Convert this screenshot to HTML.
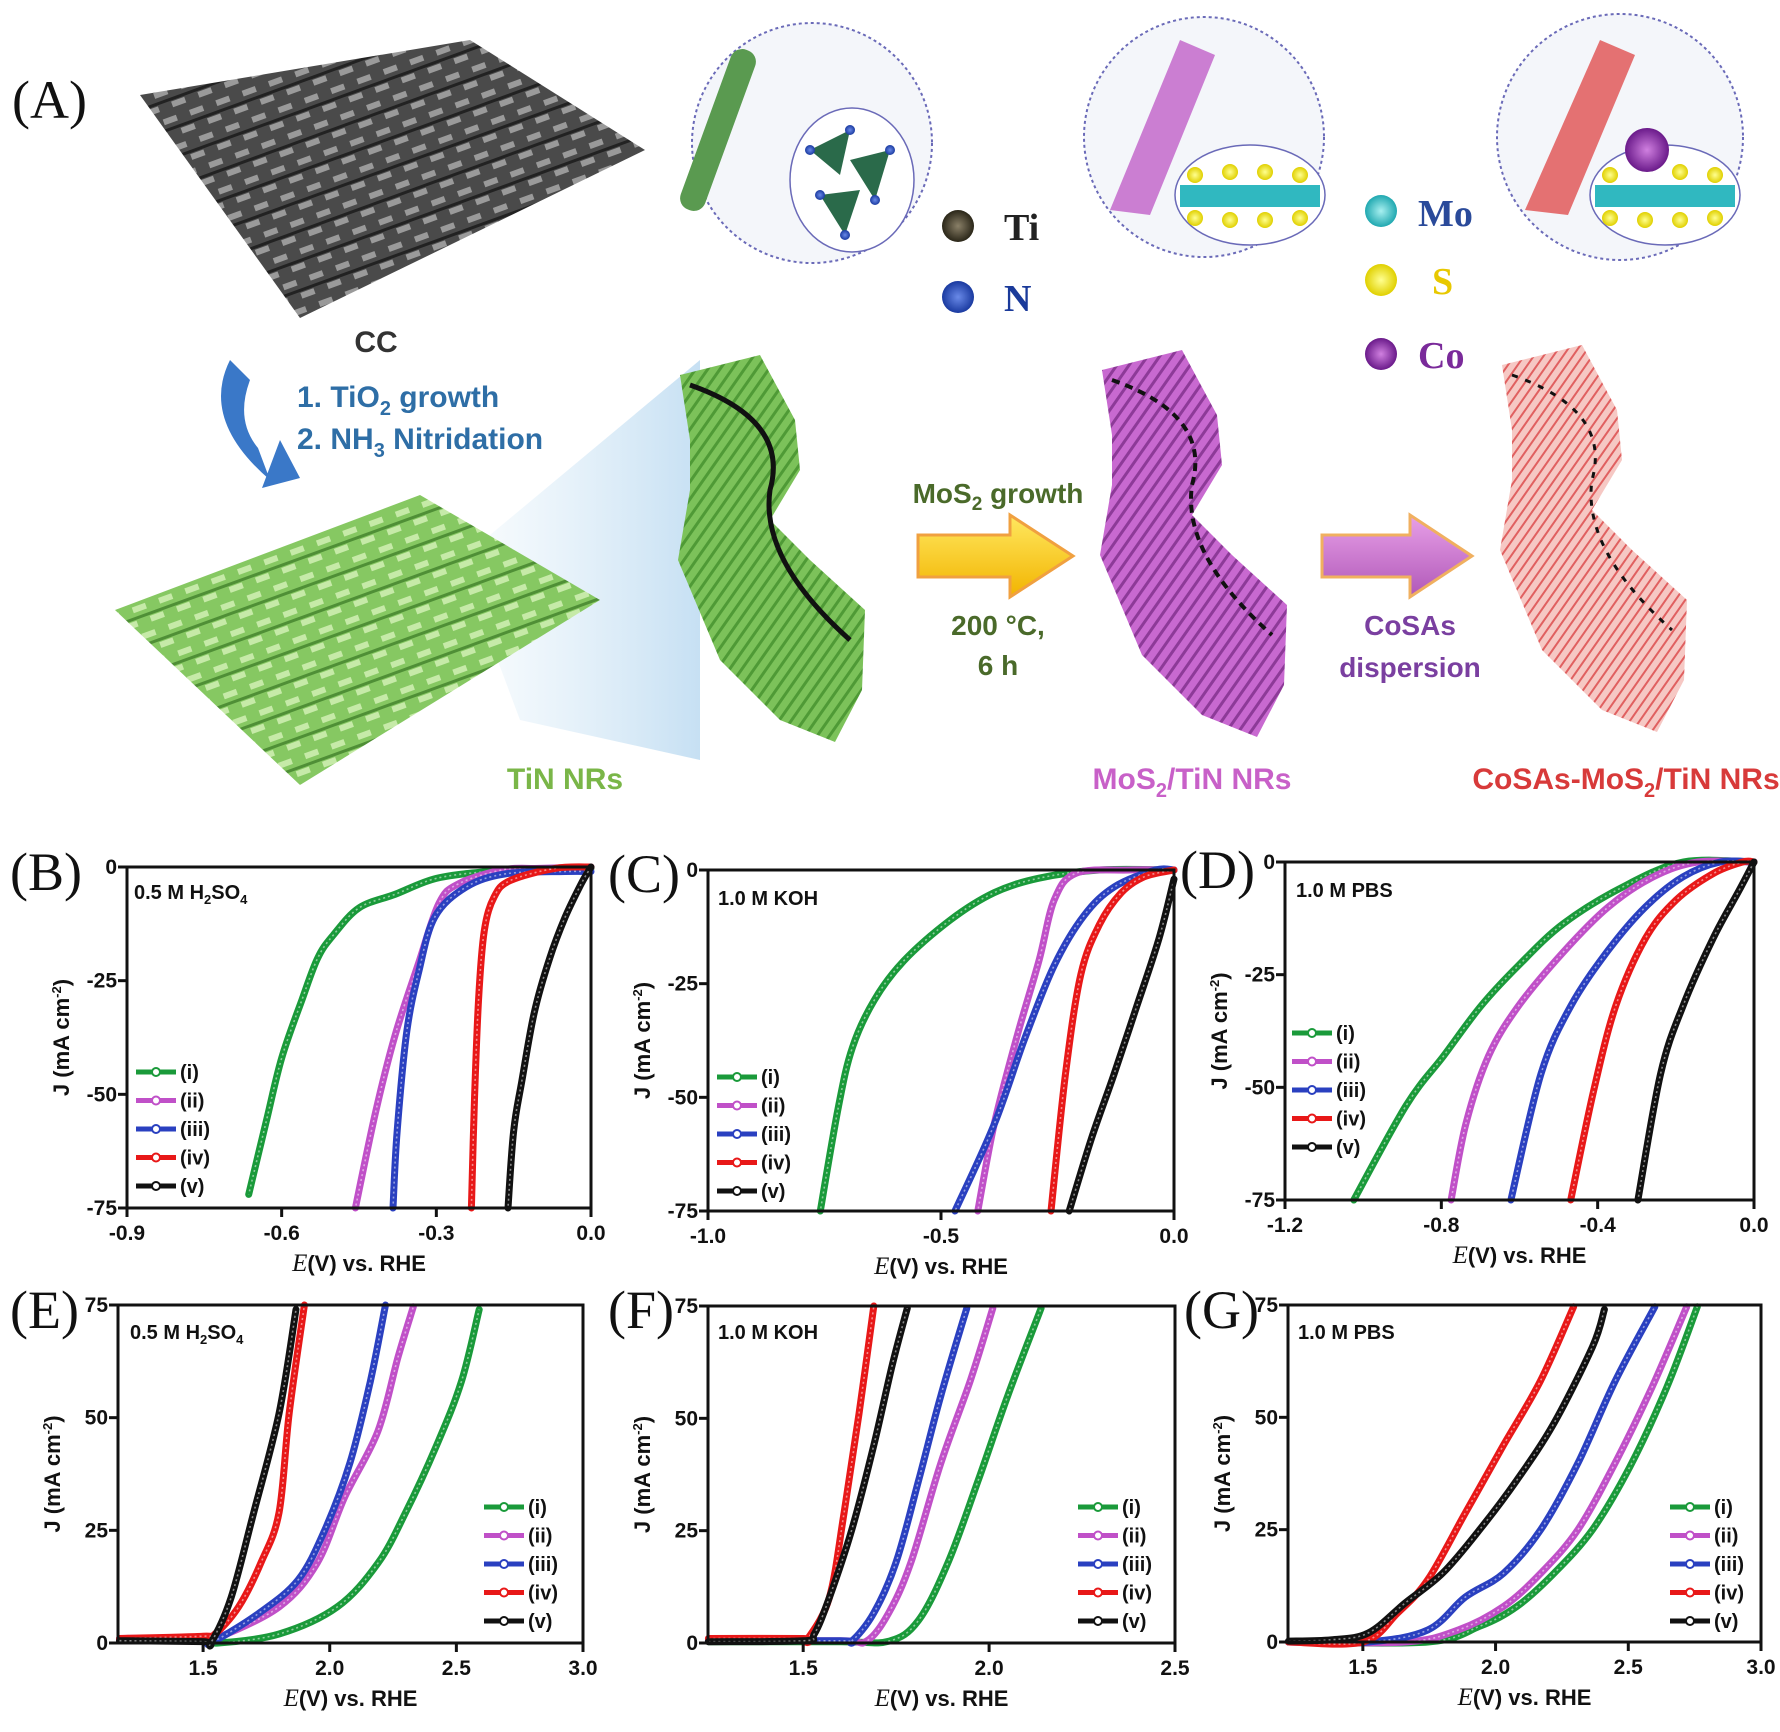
<!DOCTYPE html>
<html><head><meta charset="utf-8">
<style>
html,body{margin:0;padding:0;background:#fff;}
svg{display:block;font-family:"Liberation Sans",sans-serif;}
.pl{font-family:"Liberation Serif",serif;font-size:54px;fill:#111;}
.tk{font-weight:bold;font-size:21px;fill:#111;}
.ax{font-weight:bold;font-size:22px;fill:#111;}
.el{font-weight:bold;font-size:20px;fill:#111;}
.lg{font-weight:bold;font-size:20px;fill:#111;}
</style></head><body>
<svg id="fig" width="1780" height="1732" viewBox="0 0 1780 1732" xmlns="http://www.w3.org/2000/svg">
<defs>
<pattern id="weave" width="28" height="28" patternUnits="userSpaceOnUse" patternTransform="rotate(-20)">
<rect width="28" height="28" fill="#4a4a4a"/><rect width="14" height="6" fill="#9a9a9a"/><rect x="14" y="14" width="14" height="6" fill="#9a9a9a"/><rect y="10" width="28" height="3" fill="#222"/>
</pattern>
<pattern id="weaveg" width="28" height="28" patternUnits="userSpaceOnUse" patternTransform="rotate(-20)">
<rect width="28" height="28" fill="#86c862"/><rect width="14" height="6" fill="#c6eaa8"/><rect x="14" y="14" width="14" height="6" fill="#c6eaa8"/><rect y="10" width="28" height="3" fill="#4f8f36"/>
</pattern>
<pattern id="rodg" width="10" height="10" patternUnits="userSpaceOnUse" patternTransform="rotate(35)"><rect width="10" height="10" fill="#7cc25a"/><rect width="3" height="10" fill="#4f9a36"/></pattern>
<pattern id="rodm" width="10" height="10" patternUnits="userSpaceOnUse" patternTransform="rotate(35)"><rect width="10" height="10" fill="#c869d0"/><rect width="3" height="10" fill="#8d3a98"/></pattern>
<pattern id="rodp" width="8" height="8" patternUnits="userSpaceOnUse" patternTransform="rotate(35)"><rect width="8" height="8" fill="#f6c8c4"/><rect width="2" height="8" fill="#e06060"/></pattern>
<linearGradient id="beam" x1="0" y1="0" x2="1" y2="0"><stop offset="0" stop-color="#cfe6f5" stop-opacity="0.1"/><stop offset="1" stop-color="#b8d8f0" stop-opacity="0.8"/></linearGradient>
<linearGradient id="yarr" x1="0" y1="0" x2="0" y2="1"><stop offset="0" stop-color="#ffe860"/><stop offset="1" stop-color="#f2b400"/></linearGradient>
<linearGradient id="parr" x1="0" y1="0" x2="0" y2="1"><stop offset="0" stop-color="#e8a0e8"/><stop offset="1" stop-color="#b058b8"/></linearGradient>
<radialGradient id="ballTi"><stop offset="0" stop-color="#8a8068"/><stop offset="1" stop-color="#2a2618"/></radialGradient>
<radialGradient id="ballN"><stop offset="0" stop-color="#6a8ae8"/><stop offset="1" stop-color="#1a3aa0"/></radialGradient>
<radialGradient id="ballMo"><stop offset="0" stop-color="#a8f0f0"/><stop offset="1" stop-color="#20a8b0"/></radialGradient>
<radialGradient id="ballS"><stop offset="0" stop-color="#ffff90"/><stop offset="1" stop-color="#e0d000"/></radialGradient>
<radialGradient id="ballCo"><stop offset="0" stop-color="#d080e0"/><stop offset="1" stop-color="#6a1a8a"/></radialGradient>
</defs>

<g>
<text class="pl" x="12" y="118">(A)</text>
<polygon points="140,95 470,40 645,150 300,318" fill="url(#weave)"/>
<text x="376" y="352" font-size="30" font-weight="bold" fill="#333" text-anchor="middle">CC</text>
<path d="M230,360 Q200,420 270,480 L258,448 Q235,420 250,380 Z" fill="#3a78c8"/>
<polygon points="262,488 280,440 300,478" fill="#3a78c8"/>
<text x="297" y="407" font-size="30" font-weight="bold" fill="#2e6ea6">1. TiO<tspan font-size="20" dy="8">2</tspan><tspan dy="-8"> growth</tspan></text>
<text x="297" y="449" font-size="30" font-weight="bold" fill="#2e6ea6">2. NH<tspan font-size="20" dy="8">3</tspan><tspan dy="-8"> Nitridation</tspan></text>
<polygon points="460,560 700,360 700,760 520,720" fill="url(#beam)"/>
<polygon points="115,610 420,495 600,600 300,785" fill="url(#weaveg)"/>
<text x="565" y="789" font-size="30" font-weight="bold" fill="#7ab648" text-anchor="middle">TiN NRs</text>

<g>
<path d="M680,375 L760,355 L795,420 L800,470 L770,520 L810,560 L865,610 L862,690 L835,742 L780,720 L720,660 L678,560 L690,490 L690,440 Z" fill="url(#rodg)"/>
<path d="M690,385 Q790,420 770,490 Q760,560 850,640" stroke="#111" stroke-width="5" fill="none"/>
</g>
<circle cx="812" cy="143" r="120" fill="#f4f6fa" stroke="#6a6ab8" stroke-dasharray="3,3" stroke-width="2"/>
<rect x="705" y="45" width="26" height="170" rx="12" fill="#5a9a50" transform="rotate(20 718 130)"/>
<ellipse cx="852" cy="180" rx="62" ry="72" fill="#fff" stroke="#6a6ab8" stroke-width="1.5"/>
<g fill="#2a6a4a"><polygon points="810,150 850,130 840,175"/><polygon points="850,160 890,150 875,200"/><polygon points="820,195 860,190 845,235"/></g>
<g fill="url(#ballN)"><circle cx="810" cy="150" r="5"/><circle cx="850" cy="130" r="5"/><circle cx="890" cy="150" r="5"/><circle cx="875" cy="200" r="5"/><circle cx="820" cy="195" r="5"/><circle cx="845" cy="235" r="5"/></g>
<circle cx="958" cy="226" r="16" fill="url(#ballTi)"/>
<text x="1004" y="240" font-family="Liberation Serif,serif" font-size="38" font-weight="bold" fill="#222">Ti</text>
<circle cx="958" cy="297" r="16" fill="url(#ballN)"/>
<text x="1004" y="311" font-family="Liberation Serif,serif" font-size="38" font-weight="bold" fill="#1a3a9a">N</text>

<text x="998" y="503" font-size="28" font-weight="bold" fill="#4a6a2a" text-anchor="middle">MoS<tspan font-size="19" dy="7">2</tspan><tspan dy="-7"> growth</tspan></text>
<polygon points="918,535 1010,535 1010,515 1073,556 1010,597 1010,577 918,577" fill="url(#yarr)" stroke="#f0a040" stroke-width="3"/>
<text x="998" y="635" font-size="28" font-weight="bold" fill="#4a6a2a" text-anchor="middle">200 °C,</text>
<text x="998" y="675" font-size="28" font-weight="bold" fill="#4a6a2a" text-anchor="middle">6 h</text>

<g transform="translate(422,-5)">
<path d="M680,375 L760,355 L795,420 L800,470 L770,520 L810,560 L865,610 L862,690 L835,742 L780,720 L720,660 L678,560 L690,490 L690,440 Z" fill="url(#rodm)"/>
<path d="M690,385 Q790,420 770,490 Q760,560 850,640" stroke="#111" stroke-width="4" fill="none" stroke-dasharray="8,6"/>
</g>
<circle cx="1204" cy="137" r="120" fill="#f4f6fa" stroke="#6a6ab8" stroke-dasharray="3,3" stroke-width="2"/>
<path d="M1110,210 L1180,40 L1215,55 L1150,215 Z" fill="#c060c8" opacity="0.8"/>
<ellipse cx="1250" cy="195" rx="75" ry="50" fill="#fff" stroke="#6a6ab8" stroke-width="1.5"/>
<rect x="1180" y="185" width="140" height="22" fill="#30b8c0"/>
<g fill="url(#ballS)"><circle cx="1195" cy="175" r="8"/><circle cx="1230" cy="172" r="8"/><circle cx="1265" cy="172" r="8"/><circle cx="1300" cy="175" r="8"/><circle cx="1195" cy="218" r="8"/><circle cx="1230" cy="220" r="8"/><circle cx="1265" cy="220" r="8"/><circle cx="1300" cy="218" r="8"/></g>
<circle cx="1381" cy="211" r="16" fill="url(#ballMo)"/>
<text x="1418" y="226" font-family="Liberation Serif,serif" font-size="38" font-weight="bold" fill="#2a4a9a">Mo</text>
<circle cx="1381" cy="280" r="16" fill="url(#ballS)"/>
<text x="1432" y="294" font-family="Liberation Serif,serif" font-size="38" font-weight="bold" fill="#e8c800">S</text>
<circle cx="1381" cy="354" r="16" fill="url(#ballCo)"/>
<text x="1418" y="368" font-family="Liberation Serif,serif" font-size="38" font-weight="bold" fill="#7a2a9a">Co</text>

<polygon points="1322,535 1410,535 1410,515 1472,556 1410,597 1410,577 1322,577" fill="url(#parr)" stroke="#f0b060" stroke-width="3"/>
<text x="1410" y="635" font-size="28" font-weight="bold" fill="#7a3fa0" text-anchor="middle">CoSAs</text>
<text x="1410" y="677" font-size="28" font-weight="bold" fill="#7a3fa0" text-anchor="middle">dispersion</text>
<text x="1192" y="789" font-size="30" font-weight="bold" fill="#c860c8" text-anchor="middle">MoS<tspan font-size="20" dy="8">2</tspan><tspan dy="-8">/TiN NRs</tspan></text>

<g transform="translate(822,-10)">
<path d="M680,375 L760,355 L795,420 L800,470 L770,520 L810,560 L865,610 L862,690 L835,742 L780,720 L720,660 L678,560 L690,490 L690,440 Z" fill="url(#rodp)"/>
<path d="M690,385 Q790,420 770,490 Q760,560 850,640" stroke="#111" stroke-width="3" fill="none" stroke-dasharray="6,8"/>
</g>
<circle cx="1620" cy="137" r="123" fill="#f4f6fa" stroke="#6a6ab8" stroke-dasharray="3,3" stroke-width="2"/>
<path d="M1525,210 L1600,40 L1635,55 L1568,215 Z" fill="#e05050" opacity="0.8"/>
<ellipse cx="1665" cy="195" rx="75" ry="50" fill="#fff" stroke="#6a6ab8" stroke-width="1.5"/>
<rect x="1595" y="185" width="140" height="22" fill="#30b8c0"/>
<g fill="url(#ballS)"><circle cx="1610" cy="175" r="8"/><circle cx="1680" cy="172" r="8"/><circle cx="1715" cy="175" r="8"/><circle cx="1610" cy="218" r="8"/><circle cx="1645" cy="220" r="8"/><circle cx="1680" cy="220" r="8"/><circle cx="1715" cy="218" r="8"/></g>
<circle cx="1647" cy="150" r="22" fill="url(#ballCo)"/>
<text x="1626" y="789" font-size="30" font-weight="bold" fill="#d83a3a" text-anchor="middle">CoSAs-MoS<tspan font-size="20" dy="8">2</tspan><tspan dy="-8">/TiN NRs</tspan></text>
</g>
<g id="charts"></g>
</svg>
<script>
// ---- Panel B: HER 0.5 M H2SO4 ----
const B_i_E=[0,-0.1,-0.2,-0.3,-0.38,-0.45,-0.5,-0.53,-0.56,-0.6,-0.63,-0.664];
const B_i_J=[-0.3,-0.5,-1,-2.5,-6,-9,-15,-20,-29,-42,-56,-72];
const B_ii_E=[0,-0.1,-0.17,-0.257,-0.295,-0.334,-0.38,-0.418,-0.457];
const B_ii_J=[0,-0.3,-0.6,-3.7,-8,-21,-37,-54,-75];
const B_iii_E=[0,-0.05,-0.165,-0.242,-0.303,-0.334,-0.357,-0.376,-0.384];
const B_iii_J=[-1,-1,-1.5,-4.4,-11,-23,-36,-58,-75];
const B_iv_E=[0,-0.07,-0.157,-0.188,-0.207,-0.218,-0.226,-0.232];
const B_iv_J=[0,-0.3,-3,-6.6,-14,-29,-51,-75];
const B_v_E=[0,-0.019,-0.05,-0.08,-0.11,-0.134,-0.15,-0.161];
const B_v_J=[0,-3.7,-11,-20,-32,-47,-58,-75];
// ---- Panel C: HER 1.0 M KOH ----
const C_i_E=[0,-0.16,-0.29,-0.386,-0.48,-0.58,-0.643,-0.69,-0.72,-0.759];
const C_i_J=[0,0,-1.8,-5,-11,-20,-28.6,-39,-52,-75];
const C_ii_E=[0,-0.097,-0.21,-0.257,-0.29,-0.338,-0.386,-0.421];
const C_ii_J=[0,0,-0.7,-6.6,-20,-37,-56,-75];
const C_iii_E=[0,-0.04,-0.128,-0.193,-0.257,-0.32,-0.386,-0.47];
const C_iii_J=[0,0,-3.7,-10,-21,-37,-56,-75];
const C_iv_E=[0,-0.064,-0.113,-0.16,-0.2,-0.233,-0.264];
const C_iv_J=[0,-1.5,-5,-12,-23,-45,-75];
const C_v_E=[0,-0.032,-0.08,-0.129,-0.177,-0.225];
const C_v_J=[-2,-15,-30,-45,-59,-75];
// ---- Panel D: HER 1.0 M PBS ----
const D_i_E=[0,-0.18,-0.335,-0.488,-0.603,-0.699,-0.794,-0.89,-1.024];
const D_i_J=[0,0,-5.5,-13.7,-23,-32,-43,-54,-75];
const D_ii_E=[0,-0.144,-0.258,-0.373,-0.488,-0.603,-0.679,-0.737,-0.775];
const D_ii_J=[0,0,-3.3,-10,-20,-32,-43,-58,-75];
const D_iii_E=[0,-0.086,-0.182,-0.278,-0.373,-0.469,-0.545,-0.622];
const D_iii_J=[0,0,-3.3,-10,-19.6,-32,-47,-75];
const D_iv_E=[0,-0.029,-0.105,-0.2,-0.278,-0.354,-0.411,-0.469];
const D_iv_J=[0,0,-2.6,-8.5,-17,-32,-51,-75];
const D_v_E=[0,-0.038,-0.105,-0.182,-0.239,-0.297];
const D_v_J=[0,-6.3,-17,-32,-47,-75];
// ---- Panel E: OER 0.5 M H2SO4 ----
const E_i_E=[1.17,1.5,1.56,1.8,2.03,2.19,2.3,2.42,2.52,2.59];
const E_i_J=[0.6,0.8,0,2,8,17.7,29,43.6,58,74];
const E_ii_E=[1.17,1.5,1.55,1.8,1.95,2.06,2.19,2.27,2.33];
const E_ii_J=[1,1.2,1,8,17.7,32.5,47,63.5,74.6];
const E_iii_E=[1.17,1.5,1.53,1.72,1.875,1.98,2.08,2.16,2.22];
const E_iii_J=[0.5,0.6,0,6.6,14,25,40,58,75];
const E_iv_E=[1.17,1.5,1.547,1.64,1.73,1.8,1.84,1.9];
const E_iv_J=[1,1.5,2,8,18,29,51,75];
const E_v_E=[1.17,1.5,1.53,1.61,1.7,1.8,1.867];
const E_v_J=[0.5,0.3,0,10,29,51,74];
// ---- Panel F: OER 1.0 M KOH ----
const F_i_E=[1.245,1.6,1.73,1.81,1.89,1.97,2.05,2.14];
const F_i_J=[0.3,0.3,0.4,5,18,36,55,74.5];
const F_ii_E=[1.245,1.6,1.67,1.73,1.79,1.87,1.95,2.01];
const F_ii_J=[0.5,0.5,0.4,6.7,18,40,58.5,74.5];
const F_iii_E=[1.245,1.6,1.63,1.69,1.75,1.81,1.87,1.94];
const F_iii_J=[0.5,0.5,0.4,6.7,18,36,55,74.5];
const F_iv_E=[1.245,1.5,1.51,1.57,1.61,1.65,1.69];
const F_iv_J=[1,1,0.7,10,29,51,75];
const F_v_E=[1.245,1.5,1.53,1.57,1.63,1.69,1.74,1.78];
const F_v_J=[0.3,0.5,2,10,25,44,62,74.5];
// ---- Panel G: OER 1.0 M PBS ----
const G_i_E=[1.22,1.745,1.94,2.08,2.22,2.365,2.506,2.646,2.76];
const G_i_J=[0,0,3.5,7.9,15.3,25,39,56.8,74.6];
const G_ii_E=[1.22,1.66,1.86,2.03,2.17,2.31,2.45,2.59,2.72];
const G_ii_J=[0,0,2.7,7.9,15.3,25,39.8,56.8,74.6];
const G_iii_E=[1.22,1.52,1.745,1.886,2.03,2.17,2.31,2.45,2.6];
const G_iii_J=[0,0,2.7,10,15.3,25,39.8,58,74.6];
const G_iv_E=[1.22,1.5,1.63,1.745,1.886,2.027,2.168,2.294];
const G_iv_J=[0,0,6.4,13.9,28.7,43.5,58,74.6];
const G_v_E=[1.22,1.38,1.52,1.66,1.8,1.94,2.08,2.22,2.365,2.41];
const G_v_J=[0.2,0.5,2,8.7,15.3,25,36,48.7,65.7,74];

const seriesNames=["(i)","(ii)","(iii)","(iv)","(v)"];
const seriesColors=["#1a9a3a","#c050c8","#2a40c0","#e81818","#111111"];
const herYTicks=[0,-25,-50,-75];
const oerYTicks=[0,25,50,75];
const B_xTicks=[-0.9,-0.6,-0.3,0.0];
const C_xTicks=[-1.0,-0.5,0.0];
const D_xTicks=[-1.2,-0.8,-0.4,0.0];
const E_xTicks=[1.5,2.0,2.5,3.0];
const F_xTicks=[1.5,2.0,2.5];
const G_xTicks=[1.5,2.0,2.5,3.0];

const panels=[
 {id:"b",lab:"(B)",lx:10,ly:890,L:127,R:591,T:867,Bt:1208,x0:-0.9,x1:0,y0:-75,y1:0,xt:B_xTicks,yt:herYTicks,el:"h2so4",ex:134,ey:899,leg:[136,1072],data:[[B_i_E,B_i_J],[B_ii_E,B_ii_J],[B_iii_E,B_iii_J],[B_iv_E,B_iv_J],[B_v_E,B_v_J]]},
 {id:"c",lab:"(C)",lx:608,ly:892,L:708,R:1174,T:870,Bt:1211,x0:-1,x1:0,y0:-75,y1:0,xt:C_xTicks,yt:herYTicks,el:"KOH",ex:718,ey:905,leg:[717,1077],data:[[C_i_E,C_i_J],[C_ii_E,C_ii_J],[C_iii_E,C_iii_J],[C_iv_E,C_iv_J],[C_v_E,C_v_J]]},
 {id:"d",lab:"(D)",lx:1180,ly:888,L:1285,R:1754,T:862,Bt:1200,x0:-1.2,x1:0,y0:-75,y1:0,xt:D_xTicks,yt:herYTicks,el:"PBS",ex:1296,ey:897,leg:[1292,1033],data:[[D_i_E,D_i_J],[D_ii_E,D_ii_J],[D_iii_E,D_iii_J],[D_iv_E,D_iv_J],[D_v_E,D_v_J]]},
 {id:"e",lab:"(E)",lx:10,ly:1328,L:118,R:583,T:1305,Bt:1643,x0:1.164,x1:3.0,y0:0,y1:75,xt:E_xTicks,yt:oerYTicks,el:"h2so4",ex:130,ey:1339,leg:[484,1507],data:[[E_i_E,E_i_J],[E_ii_E,E_ii_J],[E_iii_E,E_iii_J],[E_iv_E,E_iv_J],[E_v_E,E_v_J]]},
 {id:"f",lab:"(F)",lx:608,ly:1328,L:708,R:1175,T:1306,Bt:1643,x0:1.244,x1:2.5,y0:0,y1:75,xt:F_xTicks,yt:oerYTicks,el:"KOH",ex:718,ey:1339,leg:[1078,1507],data:[[F_i_E,F_i_J],[F_ii_E,F_ii_J],[F_iii_E,F_iii_J],[F_iv_E,F_iv_J],[F_v_E,F_v_J]]},
 {id:"g",lab:"(G)",lx:1184,ly:1328,L:1288,R:1761,T:1305,Bt:1642,x0:1.218,x1:3.0,y0:0,y1:75,xt:G_xTicks,yt:oerYTicks,el:"PBS",ex:1298,ey:1339,leg:[1670,1507],data:[[G_i_E,G_i_J],[G_ii_E,G_ii_J],[G_iii_E,G_iii_J],[G_iv_E,G_iv_J],[G_v_E,G_v_J]]}
];
const NS="http://www.w3.org/2000/svg";
const root=document.getElementById("charts");
function mk(tag,attrs,parent){const e=document.createElementNS(NS,tag);for(const k in attrs)e.setAttribute(k,attrs[k]);(parent||root).appendChild(e);return e;}
function smooth(P){
 if(P.length<3) return "M"+P.map(p=>p.join(",")).join(" L");
 let d="M"+P[0][0].toFixed(1)+","+P[0][1].toFixed(1);
 for(let i=0;i<P.length-1;i++){
  const p0=P[i-1]||P[i],p1=P[i],p2=P[i+1],p3=P[i+2]||P[i+1];
  const c1=[p1[0]+(p2[0]-p0[0])/6,p1[1]+(p2[1]-p0[1])/6];
  const c2=[p2[0]-(p3[0]-p1[0])/6,p2[1]-(p3[1]-p1[1])/6];
  d+=" C"+c1[0].toFixed(1)+","+c1[1].toFixed(1)+" "+c2[0].toFixed(1)+","+c2[1].toFixed(1)+" "+p2[0].toFixed(1)+","+p2[1].toFixed(1);
 }
 return d;
}
panels.forEach(p=>{
 const g=mk("g",{});
 
 
 const sx=v=>p.L+(v-p.x0)/(p.x1-p.x0)*(p.R-p.L);
 const sy=v=>p.Bt-(v-p.y0)/(p.y1-p.y0)*(p.Bt-p.T);
 const t=mk("text",{x:p.lx,y:p.ly,class:"pl"},g);t.textContent=p.lab;
 
 
 p.data.forEach((s,i)=>{
  const P=s[0].map((e,k)=>[sx(e),sy(s[1][k])]);
  const d=smooth(P);
  const pl=mk("path",{d:d,fill:"none",stroke:seriesColors[i],"stroke-width":7,"stroke-linejoin":"round","stroke-linecap":"round"},g);
  
  
  mk("path",{d:d,fill:"none",stroke:"#fff","stroke-width":1.6,"stroke-opacity":0.5,"stroke-dasharray":"2,3"},g);
 });
 const fr=mk("rect",{x:p.L,y:p.T,width:p.R-p.L,height:p.Bt-p.T,fill:"none",stroke:"#111","stroke-width":3},g);
 
 
 p.xt.forEach(v=>{
  const x=sx(v);mk("line",{x1:x,x2:x,y1:p.Bt,y2:p.Bt+9,stroke:"#111","stroke-width":3},g);
  const tt=mk("text",{x:x,y:p.Bt+32,class:"tk","text-anchor":"middle"},g);tt.textContent=v.toFixed(1);
  
  
 });
 p.yt.forEach(v=>{
  const y=sy(v);mk("line",{x1:p.L-9,x2:p.L,y1:y,y2:y,stroke:"#111","stroke-width":3},g);
  const tt=mk("text",{x:p.L-10,y:y+7,class:"tk","text-anchor":"end"},g);tt.textContent=String(v);
  
  
 });
 const xt=mk("text",{x:(p.L+p.R)/2,y:p.Bt+63,class:"ax","text-anchor":"middle"},g);
 xt.innerHTML='<tspan font-family="Liberation Serif,serif" font-style="italic" font-weight="normal" font-size="25">E</tspan>(V) vs. RHE';
 
 
 const yc=(p.T+p.Bt)/2;
 const yt=mk("text",{x:p.L-58,y:yc,class:"ax","text-anchor":"middle",transform:"rotate(-90 "+(p.L-58)+" "+yc+")"},g);
 yt.innerHTML='J (mA cm<tspan font-size="13" dy="-8">-2</tspan><tspan dy="8">)</tspan>';
 
 
 const et=mk("text",{x:p.ex,y:p.ey,class:"el"},g);
 if(p.el==="h2so4") et.innerHTML='0.5 M H<tspan font-size="13" dy="5">2</tspan><tspan dy="-5">SO</tspan><tspan font-size="13" dy="5">4</tspan>';
 else et.textContent="1.0 M "+p.el;
 
 
 seriesNames.forEach((n,i)=>{
  const y=p.leg[1]+i*28.5, x=p.leg[0];
  const lg=mk("g",{},g);
  
  
  mk("line",{x1:x,x2:x+40,y1:y,y2:y,stroke:seriesColors[i],"stroke-width":5},lg);
  mk("circle",{cx:x+20,cy:y,r:4,fill:"#fff",stroke:seriesColors[i],"stroke-width":2},lg);
  const lt=mk("text",{x:x+44,y:y+7,class:"lg"},lg);lt.textContent=n;
 });
});
</script>
</body></html>
